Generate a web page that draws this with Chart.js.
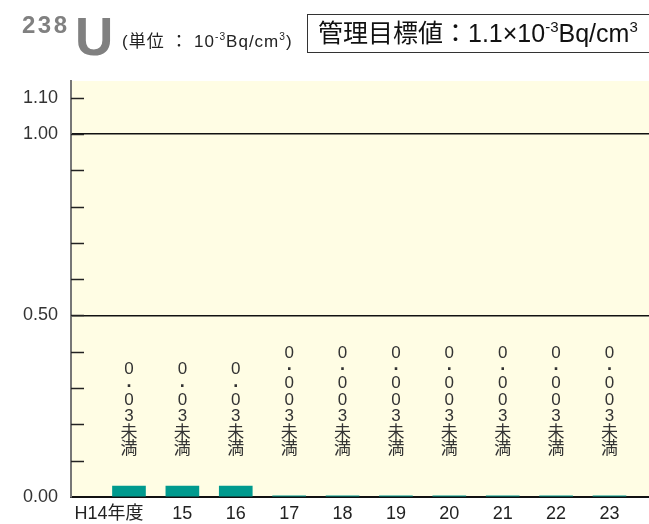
<!DOCTYPE html>
<html lang="ja">
<head>
<meta charset="utf-8">
<title>238U</title>
<script src="https://cdn.jsdelivr.net/npm/chart.js@4.4.1/dist/chart.umd.min.js"></script>
<style>
  html, body { margin: 0; padding: 0; background: #fff; overflow: hidden; }
  body { font-family: 'Liberation Sans', 'Noto Sans CJK JP', sans-serif; }
  #wrap { position: relative; width: 649px; height: 524px; }
  #grafico { position: absolute; left: 0; top: 0; }
  .iso { position: absolute; left: 22px; top: 13px; font-size: 24px; font-weight: bold; color: #808080;
         line-height: 1; letter-spacing: 2.5px; }
  .elem { position: absolute; left: 75px; top: 10px; font-size: 53px; font-weight: bold; color: #808080; line-height: 1; }
  .unidade { position: absolute; left: 122px; top: 33px; font-size: 17px; color: #222; line-height: 1;
             white-space: nowrap; letter-spacing: 1px; }
  .caixa { position: absolute; left: 307px; top: 14px; width: 400px; height: 37px; border: 1px solid #333;
           font-size: 25px; color: #111; line-height: 37px; padding-left: 10px; white-space: nowrap; box-sizing: content-box; }
  sup { font-size: 0.6em; line-height: 0; vertical-align: 0.65em; }
</style>
</head>
<body>
<div id="wrap">
  <canvas id="grafico" width="649" height="524"></canvas>
  <span class="iso">238</span><span class="elem">U</span>
  <span class="unidade">(単位 ： 10<sup>-3</sup>Bq/cm<sup>3</sup>)</span>
  <div class="caixa">管理目標値：1.1×10<sup>-3</sup>Bq/cm<sup>3</sup></div>
</div>
<script>
// Anos fiscais e valores medidos
const categorias = ['H14年度', '15', '16', '17', '18', '19', '20', '21', '22', '23'];
const valores = [0.03, 0.03, 0.03, 0.003, 0.003, 0.003, 0.003, 0.003, 0.003, 0.003];
const rotulosValores = ['0.03未満', '0.03未満', '0.03未満', '0.003未満', '0.003未満',
                        '0.003未満', '0.003未満', '0.003未満', '0.003未満', '0.003未満'];
const ticksY = [0, 0.1, 0.2, 0.3, 0.4, 0.5, 0.6, 0.7, 0.8, 0.9, 1.0, 1.1];
const rotulosY = ['0.00', '0.50', '1.00', '1.10'];
const linhasY = ['0.50', '1.00'];

const corFundo = '#fffde4';
const corBarra = '#009a8e';
const fonteBase = "'Liberation Sans', 'Noto Sans CJK JP', sans-serif";

// Fundo amarelo da área do gráfico
const fundoPlugin = {
    id: 'fundo',
    beforeDraw(chart) {
        const { ctx, chartArea: a } = chart;
        ctx.save();
        ctx.fillStyle = corFundo;
        ctx.fillRect(a.left, a.top, a.right - a.left, a.bottom - a.top);
        ctx.restore();
    }
};

// Marcas curtas do eixo Y, para dentro da área
const marcasPlugin = {
    id: 'marcas',
    beforeDatasetsDraw(chart) {
        const { ctx, chartArea: a, scales } = chart;
        ctx.save();
        ctx.strokeStyle = '#222';
        ctx.lineWidth = 1.5;
        ticksY.forEach(v => {
            if (v === 0) return;
            const y = Math.round(scales.y.getPixelForValue(v)) + 0.5;
            ctx.beginPath();
            ctx.moveTo(a.left, y);
            ctx.lineTo(a.left + 13, y);
            ctx.stroke();
        });
        ctx.restore();
    }
};

// Rótulos verticais sobre cada barra (um caractere por linha, de baixo para cima)
const rotulosPlugin = {
    id: 'rotulos',
    afterDatasetsDraw(chart) {
        const { ctx, scales } = chart;
        const meta = chart.getDatasetMeta(0);
        const base = scales.y.getPixelForValue(0) - 39;
        ctx.save();
        ctx.fillStyle = '#333';
        ctx.textAlign = 'center';
        ctx.textBaseline = 'middle';
        meta.data.forEach((barra, i) => {
            const chars = Array.from(rotulosValores[i]);
            let atual = base;
            for (let j = chars.length - 1; j >= 0; j--) {
                const c = chars[j];
                const h = c === '.' ? 14 : 16.5;
                const y = atual - h / 2;
                if (c === '.') {
                    ctx.font = 'bold 18px ' + fonteBase;
                    ctx.fillText(c, barra.x, y - 3);
                } else {
                    ctx.font = '17px ' + fonteBase;
                    ctx.fillText(c, barra.x, y);
                }
                atual -= h;
            }
        });
        ctx.restore();
    }
};

// Rótulos do eixo X; o primeiro (mais longo) encosta na borda direita da barra
const eixoXPlugin = {
    id: 'eixoX',
    afterDraw(chart) {
        const { ctx, scales } = chart;
        const meta = chart.getDatasetMeta(0);
        const y = scales.x.top + 17;
        ctx.save();
        ctx.font = '18px ' + fonteBase;
        ctx.fillStyle = '#222';
        ctx.textBaseline = 'middle';
        meta.data.forEach((barra, i) => {
            if (i === 0) {
                ctx.textAlign = 'right';
                ctx.fillText(categorias[i], barra.x + barra.width / 2 - 2, y);
            } else {
                ctx.textAlign = 'center';
                ctx.fillText(categorias[i], barra.x, y);
            }
        });
        ctx.restore();
    }
};

const ctx = document.getElementById('grafico').getContext('2d');
new Chart(ctx, {
    type: 'bar',
    data: {
        datasets: [{
            data: valores.map((v, i) => ({ x: i, y: v })),
            backgroundColor: corBarra,
            barThickness: 33,
            borderWidth: 0
        }]
    },
    options: {
        responsive: false,
        animation: false,
        layout: { padding: { top: 81, left: 0, right: 0, bottom: 0 } },
        plugins: {
            legend: { display: false },
            tooltip: { enabled: false }
        },
        scales: {
            x: {
                type: 'linear',
                offset: false,
                min: -1.086,
                max: 9.74,
                afterFit: s => { s.height = 27; },
                ticks: { display: false },
                grid: { display: false, drawTicks: false },
                border: { color: '#111', width: 2 }
            },
            y: {
                min: 0,
                max: 1.146,
                afterBuildTicks: s => { s.ticks = ticksY.map(v => ({ value: v })); },
                afterFit: s => { s.width = 71; },
                ticks: {
                    padding: 13,
                    color: '#333',
                    font: { size: 18, family: "'Liberation Sans', sans-serif" },
                    callback: v => rotulosY.includes(v.toFixed(2)) ? v.toFixed(2) : ''
                },
                grid: {
                    drawTicks: false,
                    lineWidth: 1.5,
                    color: c => linhasY.includes(c.tick.value.toFixed(2)) ? '#111' : 'rgba(0,0,0,0)'
                },
                border: { color: '#777', width: 2 }
            }
        }
    },
    plugins: [fundoPlugin, marcasPlugin, rotulosPlugin, eixoXPlugin]
});
</script>
</body>
</html>
